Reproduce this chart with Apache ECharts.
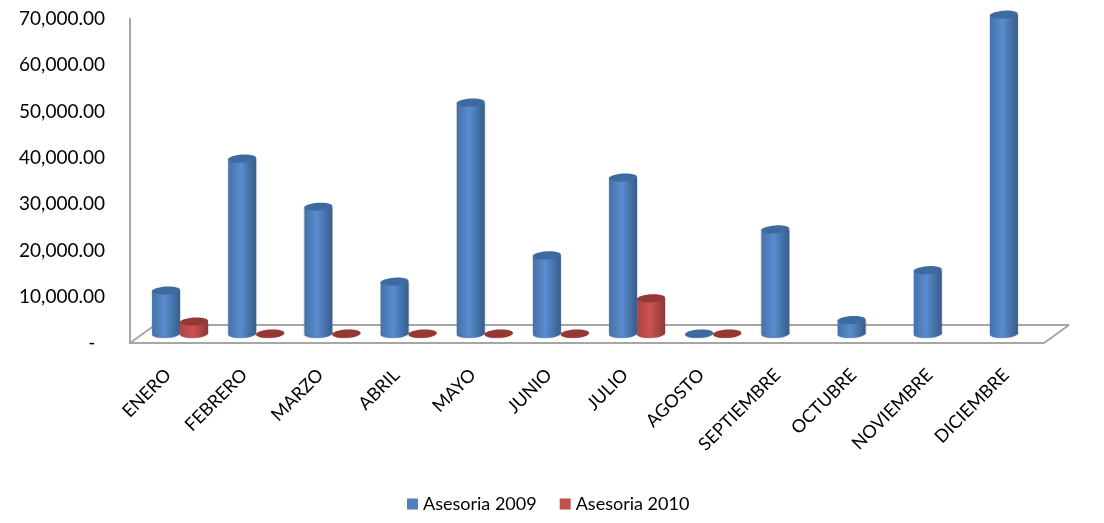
<!DOCTYPE html>
<html><head><meta charset="utf-8">
<style>html,body{margin:0;padding:0;background:#fff}#c{width:1104px;height:523px}</style>
<script src="https://cdn.jsdelivr.net/npm/echarts@6/dist/echarts.min.js"></script>
</head><body><div id="c"></div>
<script>
var categories = ['ENERO','FEBRERO','MARZO','ABRIL','MAYO','JUNIO','JULIO','AGOSTO','SEPTIEMBRE','OCTUBRE','NOVIEMBRE','DICIEMBRE'];
var asesoria2009 = [9400,37900,27500,11300,50000,17000,33800,100,22600,3000,13800,69000];
var asesoria2010 = [2700,100,100,100,100,100,7700,100,0,0,0,0];
var yTicks = [0,10000,20000,30000,40000,50000,60000,70000];

var DEPTH_X = 12, DEPTH_Y = 9, FLOOR_X = 25, FLOOR_Y = 18, RX = 14, RY = 4, TILT = 0.06;
var chart = echarts.init(document.getElementById('c'), null, {renderer:'canvas'});

function grad(edge, side, mid){
  return new echarts.graphic.LinearGradient(0,0,1,0,[
    {offset:0,color:side},{offset:0.45,color:mid},{offset:0.75,color:side},{offset:1,color:edge}]);
}
function cylinder(offset, edge, side, mid, top){
  return function(params, api){
    var v = api.value(1);
    if (v <= 0) return;
    var p = api.coord([api.value(0), v]);
    var b = api.coord([api.value(0), 0]);
    var cx = p[0] + offset + DEPTH_X, yT = p[1] - DEPTH_Y, yB = b[1] - DEPTH_Y;
    var halo = {shadowBlur:2, shadowColor:'rgba(90,90,90,0.35)'};
    return {type:'group', children:[
      {type:'ellipse', shape:{cx:cx, cy:yB, rx:RX, ry:RY}, rotation:TILT, originX:cx, originY:yB,
        style:Object.assign({fill:grad(edge,side,mid)},halo)},
      {type:'rect', shape:{x:cx-RX, y:yT, width:RX*2, height:Math.max(yB-yT,0)},
        style:Object.assign({fill:grad(edge,side,mid)},halo)},
      {type:'ellipse', shape:{cx:cx, cy:yT, rx:RX, ry:RY}, rotation:TILT, originX:cx, originY:yT,
        style:{fill:top}}
    ]};
  };
}
function floor(params, api){
  var g = params.coordSys, x0 = g.x, x1 = g.x + g.width, y = g.y + g.height;
  var s = {stroke:'#a6a6a6', lineWidth:2, fill:null};
  return {type:'group', children:[
    {type:'line', shape:{x1:x0,y1:y,x2:x0+FLOOR_X,y2:y-FLOOR_Y}, style:s},
    {type:'line', shape:{x1:x0+FLOOR_X,y1:y-FLOOR_Y,x2:x1+FLOOR_X,y2:y-FLOOR_Y}, style:s},
    {type:'line', shape:{x1:x1+FLOOR_X,y1:y-FLOOR_Y,x2:x1,y2:y}, style:s}
  ]};
}
chart.setOption({
  animation:false,
  textStyle:{fontFamily:'Lato'},
  legend:{bottom:5, left:402, itemWidth:11, itemHeight:11, itemGap:23, icon:'rect',
    data:['Asesoria 2009','Asesoria 2010'],
    textStyle:{fontSize:18, color:'#000', fontFamily:'Lato'}},
  grid:{left:130, top:19, width:914, height:324},
  xAxis:{type:'category', data:categories,
    axisLine:{lineStyle:{color:'#a6a6a6',width:2}}, axisTick:{show:false},
    axisLabel:{rotate:45, interval:0, margin:29, fontSize:18, color:'#000', fontFamily:'Lato'}},
  yAxis:{type:'value', min:0, max:70000, interval:10000,
    axisLine:{show:true, lineStyle:{color:'#a6a6a6',width:2}},
    axisTick:{show:false}, splitLine:{show:false},
    axisLabel:{margin:25, fontSize:19, color:'#000', fontFamily:'Lato', lineHeight:22, padding:[4,0,0,0],
      formatter:function(v){ return v===0 ? '-\u00a0\u00a0' : v.toLocaleString('en-US',{minimumFractionDigits:2}); }}},
  series:[
    {type:'custom', name:'floor', data:[0], renderItem:floor, silent:true, z:1},
    {type:'custom', name:'Asesoria 2009', renderItem:cylinder(-14,'#385d8a','#4472a8','#5a8dd0','#3e6b9f'),
      encode:{x:0,y:1}, itemStyle:{color:'#4f81bd'}, z:2,
      data:categories.map(function(c,i){return [i,asesoria2009[i]];})},
    {type:'custom', name:'Asesoria 2010', renderItem:cylinder(14,'#8c3836','#a94543','#d0524f','#953735'),
      encode:{x:0,y:1}, itemStyle:{color:'#c0504d'}, z:3,
      data:categories.map(function(c,i){return [i,asesoria2010[i]];})}
  ]
});
</script></body></html>
